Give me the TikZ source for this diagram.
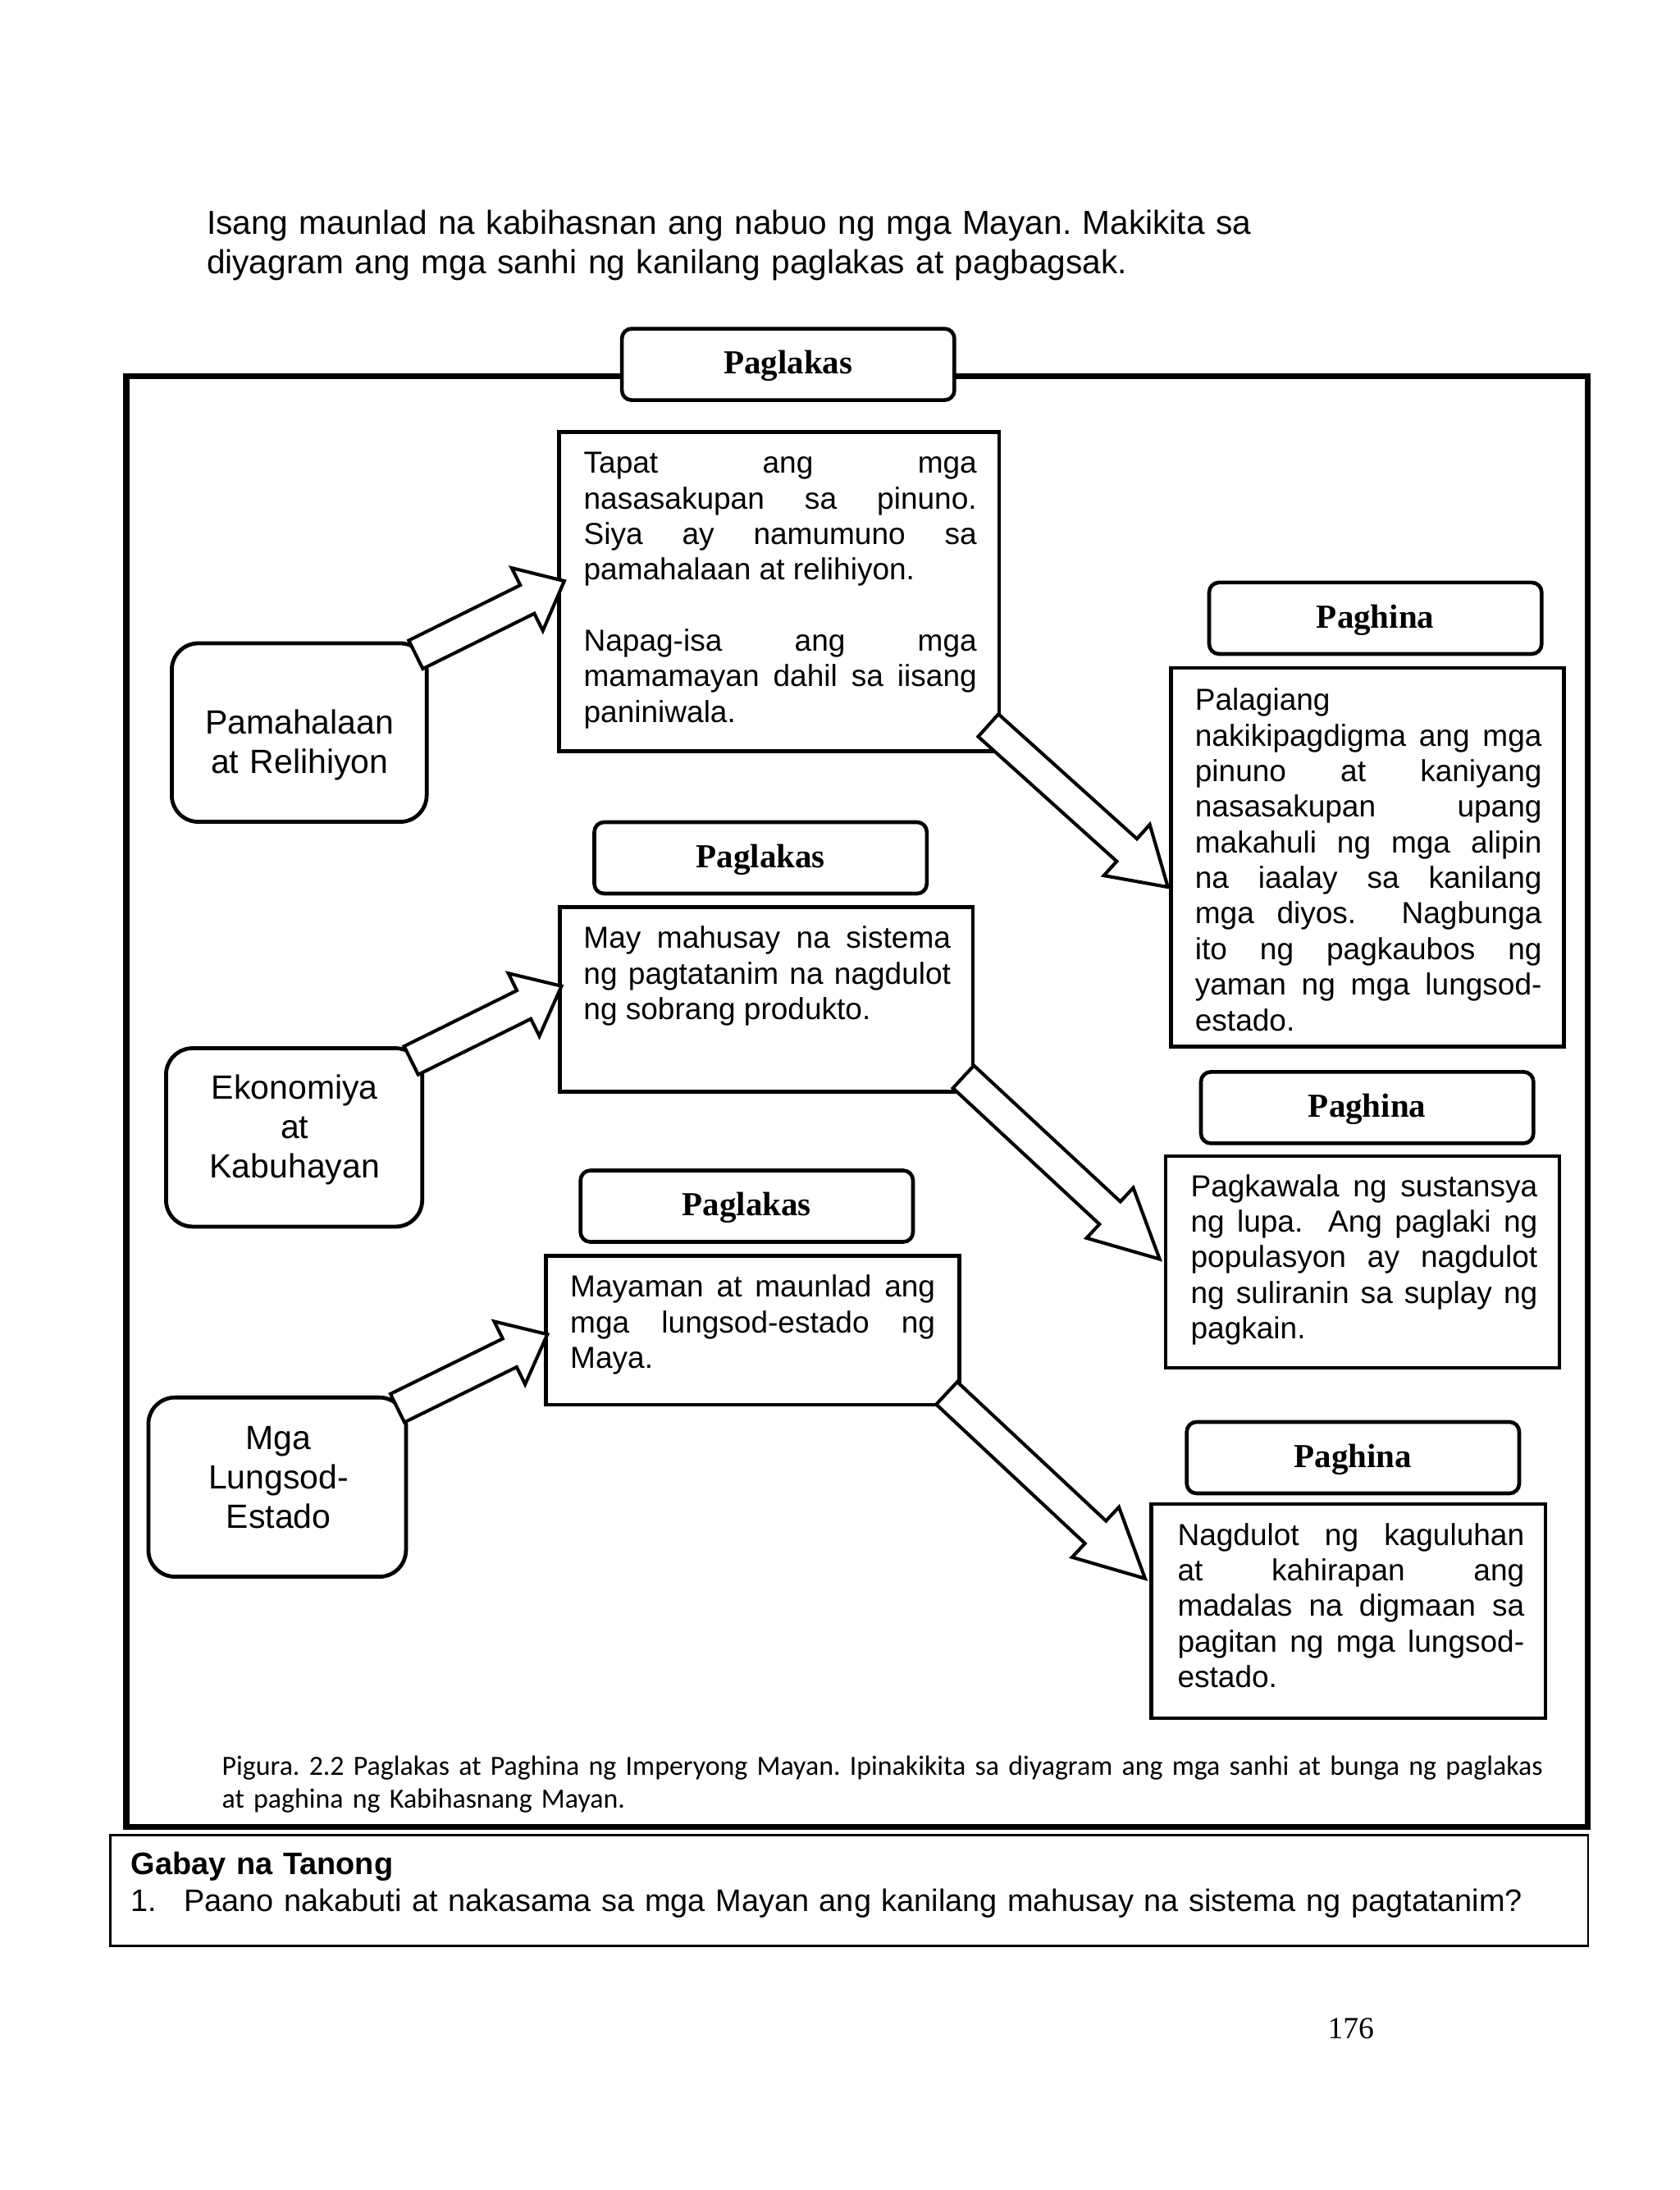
\documentclass[tikz,border=0pt]{standalone}
\usepackage{fontspec}
\setmainfont{Liberation Sans}
\newfontfamily\serifb{Liberation Serif}
\newfontfamily\calfont{Carlito}
\usetikzlibrary{calc}
\tolerance=10000
\hbadness=10000
\hfuzz=50pt
\hyphenpenalty=10000
\exhyphenpenalty=10000
\frenchspacing
\newcommand\blockarrow[5]{%
  \coordinate (#1hb) at ($(#2)!#5!(#1)$);
  \draw[barrow] ($(#1)!#3!90:(#2)$) -- ($(#1hb)!#3!90:(#2)$) -- ($(#1hb)!#4!90:(#2)$) -- (#2)
     -- ($(#1hb)!#4!-90:(#2)$) -- ($(#1hb)!#3!-90:(#2)$) -- ($(#1)!#3!-90:(#2)$) -- cycle;}
\tikzset{
  boxs/.style={draw, line width=1.35pt, fill=white, inner sep=0pt},
  tabs/.style={draw, line width=1.35pt, rounded corners=3.5pt, fill=white,
     minimum width=118.75pt, minimum height=25.5pt, inner sep=0pt,
     text height=8.4pt, text depth=1.5pt,
     font=\serifb\bfseries\fontsize{12}{14}\selectfont},
  lbox/.style={draw, line width=1.4pt, rounded corners=9.5pt, fill=white, inner sep=0pt},
  btext/.style={anchor=base west, inner sep=0pt, align=justify,
     font=\fontsize{10.85}{12.7}\selectfont},
  ltext/.style={anchor=base, inner sep=0pt, align=center, text width=88pt,
     font=\fontsize{12}{14}\selectfont},
  barrow/.style={draw, line width=1.2pt, fill=white, line join=miter, miter limit=10},
}
\begin{document}
\begin{tikzpicture}[x=0.5pt,y=-0.5pt]
\fill[white] (0,0) rectangle (1200,1564);
\useasboundingbox (0,0) rectangle (1200,1564);

% intro text
\node[anchor=base west, inner sep=0pt, align=left, text width=440pt,
      font=\fontsize{11.9}{14}\selectfont] (intro) at (147.3,167.5)
  {Isang maunlad na kabihasnan ang nabuo ng mga Mayan. Makikita sa\\diyagram ang mga sanhi ng kanilang paglakas at pagbagsak.};

% frame
\node[draw, line width=2.1pt, minimum width=522.1pt, minimum height=517.95pt, inner sep=0pt]
  (frame) at (612.3,786.75) {};

% tabs
\node[tabs] (t1) at (563,260.25) {Paglakas};
\node[tabs] (t2) at (543.3,612.65) {Paglakas};
\node[tabs] (t3) at (533.45,861.4) {Paglakas};
\node[tabs] (p1) at (982.5,441.5) {Paghina};
\node[tabs] (p2) at (976.65,791) {Paghina};
\node[tabs] (p3) at (966.5,1041) {Paghina};

% left boxes
\node[lbox, minimum width=91.05pt, minimum height=63.75pt] (l1) at (213.75,523.15) {};
\node[lbox, minimum width=91.5pt, minimum height=63.7pt] (l2) at (210.1,812.3) {};
\node[lbox, minimum width=92pt, minimum height=64pt] (l3) at (198,1062) {};
\node[ltext] (l1t) at (214,524) {Pamahalaan\\at Relihiyon};
\node[ltext] (l2t) at (210.5,785.2) {Ekonomiya\\at\\Kabuhayan};
\node[ltext] (l3t) at (199,1035.2) {Mga\\Lungsod-\\Estado};

% content boxes
\node[boxs, minimum width=157.2pt, minimum height=113.95pt] (b1) at (556.6,422.55) {};
\node[boxs, minimum width=147.55pt, minimum height=65.95pt] (b3) at (547.45,713.85) {};
\node[boxs, minimum width=147.7pt, minimum height=53.2pt] (b4) at (537.5,950.1) {};
\node[boxs, minimum width=140.25pt, minimum height=135.25pt] (b5) at (976.75,612.25) {};
\node[boxs, minimum width=140.7pt, minimum height=75.65pt] (b6) at (973.3,901.25) {};
\node[boxs, minimum width=140.7pt, minimum height=76.4pt] (b7) at (963.3,1150.6) {};

\node[btext, text width=140.4pt] (b1t) at (416.6,338)
  {Tapat ang mga\linebreak nasasakupan sa pinuno.\linebreak Siya ay namumuno sa\linebreak pamahalaan at relihiyon.\par\vspace{12.7pt}Napag-isa ang mga\linebreak mamamayan dahil sa iisang\linebreak paniniwala.};
\node[btext, text width=131.15pt] (b3t) at (416.5,677.3)
  {May mahusay na sistema\linebreak ng pagtatanim na nagdulot\linebreak ng sobrang produkto.};
\node[btext, text width=130.35pt] (b4t) at (407,926.4)
  {Mayaman at maunlad ang\linebreak mga lungsod-estado ng\linebreak Maya.};
\node[btext, text width=123.85pt] (b5t) at (853.3,507.4)
  {Palagiang\hfill\linebreak nakikipagdigma ang mga\linebreak pinuno at kaniyang\linebreak nasasakupan upang\linebreak makahuli ng mga alipin\linebreak na iaalay sa kanilang\linebreak mga diyos.\ \ Nagbunga\linebreak ito ng pagkaubos ng\linebreak yaman ng mga lungsod-\linebreak estado.};
\node[btext, text width=123.85pt] (b6t) at (850.2,854.5)
  {Pagkawala ng sustansya\linebreak ng lupa.\ \ Ang paglaki ng\linebreak populasyon ay nagdulot\linebreak ng suliranin sa suplay ng\linebreak pagkain.};
\node[btext, text width=123.85pt] (b7t) at (840.8,1103.5)
  {Nagdulot ng kaguluhan\linebreak at kahirapan ang\linebreak madalas na digmaan sa\linebreak pagitan ng mga lungsod-\linebreak estado.};

% block arrows
\coordinate (aAs) at (297,467.5);   \coordinate (aAe) at (403.1,414.9);
\coordinate (aBs) at (706,518);     \coordinate (aBe) at (834.3,633.5);
\coordinate (aCs) at (293.7,757.3); \coordinate (aCe) at (401.1,704.2);
\coordinate (aDs) at (688.2,769);   \coordinate (aDe) at (828.4,899.2);
\coordinate (aEs) at (283.9,1005.6); \coordinate (aEe) at (391,952.9);
\coordinate (aFs) at (676.3,994.9); \coordinate (aFe) at (818,1127.3);
\blockarrow{aAs}{aAe}{5.65pt}{12.5pt}{14.75pt}
\blockarrow{aBs}{aBe}{5.4pt}{12.25pt}{19.75pt}
\blockarrow{aCs}{aCe}{5.65pt}{12.5pt}{15pt}
\blockarrow{aDs}{aDe}{5.5pt}{12.25pt}{24.25pt}
\blockarrow{aEs}{aEe}{5.65pt}{12.5pt}{15pt}
\blockarrow{aFs}{aFe}{5.5pt}{12.25pt}{24.25pt}

% caption
\node[anchor=base west, inner sep=0pt, align=left, text width=540pt,
      font=\calfont\fontsize{9.92}{11.7}\selectfont] (cap) at (158.2,1268)
  {Pigura. 2.2 Paglakas at Paghina ng Imperyong Mayan. Ipinakikita sa diyagram ang mga sanhi at bunga ng paglakas\\at paghina ng Kabihasnang Mayan.};

% guide box
\node[draw, line width=0.75pt, minimum width=527.75pt, minimum height=39.55pt, inner sep=0pt]
  (gabay) at (606.65,1350.05) {};
\node[anchor=base west, inner sep=0pt, align=left, text width=520pt,
      font=\fontsize{11.1}{13.15}\selectfont] (gabayt) at (93.3,1338.5)
  {{\bfseries Gabay na Tanong}\\\makebox[18.8pt][l]{1.}Paano nakabuti at nakasama sa mga Mayan ang kanilang mahusay na sistema ng pagtatanim?};

% page number
\node[anchor=base, inner sep=0pt, font=\serifb\fontsize{11}{13}\selectfont] (pg) at (965,1456) {176};
\end{tikzpicture}
\end{document}
